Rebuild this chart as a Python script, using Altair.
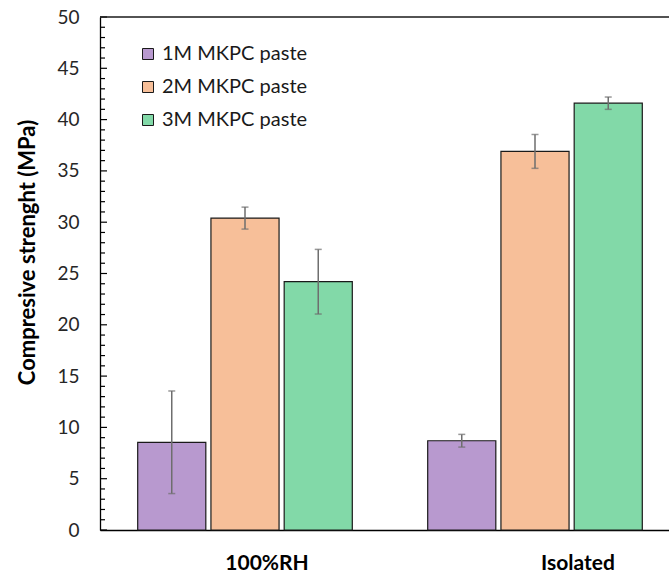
import altair as alt
import pandas as pd

conditions = ["100%RH", "Isolated"]
series = ["1M MKPC paste", "2M MKPC paste", "3M MKPC paste"]
means_rh = [8.55, 30.4, 24.2]
err_rh = [5.0, 1.07, 3.15]
means_iso = [8.7, 36.9, 41.6]
err_iso = [0.62, 1.65, 0.6]
colors = ["#B899CF", "#F7BF99", "#82D9A8"]
y_labels = [0, 5, 10, 15, 20, 25, 30, 35, 40, 45, 50]
minor_ticks = list(range(0, 51))

rows = []
for cond, means, errs in [(conditions[0], means_rh, err_rh), (conditions[1], means_iso, err_iso)]:
    for s, m, e in zip(series, means, errs):
        rows.append({"cond": cond, "series": s, "value": m, "lo": m - e, "hi": m + e})
df = pd.DataFrame(rows)

ticks_df = pd.DataFrame({"t": minor_ticks, "major": [t % 5 == 0 for t in minor_ticks]})

FONT = "Lato"

x_enc = alt.X(
    "cond:N",
    sort=conditions,
    scale=alt.Scale(range=[0, 580], paddingInner=0.26, paddingOuter=0.13),
    axis=alt.Axis(
        title=None, labelAngle=0, labelFont=FONT, labelFontSize=21, labelFontWeight="bold",
        labelColor="#000000", ticks=False, labelPadding=22,
        labelOffset={"condition": {"test": "datum.label === 'Isolated'", "value": 43}, "value": 22},
        domainColor="#000000", domainWidth=1.3, grid=False,
    ),
)
xo_enc = alt.XOffset("series:N", sort=series, scale=alt.Scale(paddingInner=0.07, paddingOuter=0))
y_scale = alt.Scale(domain=[0, 50], nice=False)
y_enc = alt.Y(
    "value:Q",
    scale=y_scale,
    axis=alt.Axis(
        title="Compresive strenght (MPa)", values=y_labels, ticks=False, grid=False,
        labelFont=FONT, labelFontSize=19, labelColor="#262626", labelPadding=21,
        domainColor="#000000", domainWidth=1.3,
        titleFont=FONT, titleFontSize=22, titleFontWeight="bold", titleColor="#000000",
        titleX=-73, titleY=235, titleAngle=270, titleAlign="center", titleBaseline="middle",
    ),
)

bars = alt.Chart(df).mark_bar(stroke="#1a1a1a", strokeWidth=1.2).encode(
    x=x_enc,
    xOffset=xo_enc,
    y=y_enc,
    color=alt.Color(
        "series:N",
        sort=series,
        scale=alt.Scale(domain=series, range=colors),
        legend=alt.Legend(
            title=None, orient="none", legendX=38, legendY=27, padding=0,
            symbolType="square", symbolSize=121, symbolStrokeColor="#1a1a1a", symbolStrokeWidth=1,
            labelFont=FONT, labelFontSize=20, labelColor="#1a1a1a", rowPadding=13,
            labelOffset=4, labelLimit=300,
        ),
    ),
)

err_rules = alt.Chart(df).mark_rule(color="#6e6e6e", strokeWidth=1.5).encode(
    x=alt.X("cond:N", sort=conditions), xOffset=alt.XOffset("series:N", sort=series),
    y=alt.Y("lo:Q", scale=y_scale), y2="hi:Q",
)
cap_lo = alt.Chart(df).mark_tick(color="#6e6e6e", size=7, thickness=1.5, orient="horizontal").encode(
    x=alt.X("cond:N", sort=conditions), xOffset=alt.XOffset("series:N", sort=series),
    y=alt.Y("lo:Q", scale=y_scale),
)
cap_hi = alt.Chart(df).mark_tick(color="#6e6e6e", size=7, thickness=1.5, orient="horizontal").encode(
    x=alt.X("cond:N", sort=conditions), xOffset=alt.XOffset("series:N", sort=series),
    y=alt.Y("hi:Q", scale=y_scale),
)

minor = alt.Chart(ticks_df).transform_filter("!datum.major").mark_rule(color="#000000", strokeWidth=1.2).encode(
    y=alt.Y("t:Q", scale=y_scale), x=alt.value(0), x2=alt.value(5),
)
major = alt.Chart(ticks_df).transform_filter("datum.major").mark_rule(color="#000000", strokeWidth=1.2).encode(
    y=alt.Y("t:Q", scale=y_scale), x=alt.value(0), x2=alt.value(7),
)
top_line = alt.Chart(pd.DataFrame({"top": [50]})).mark_rule(color="#1a1a1a", strokeWidth=1.3).encode(
    y=alt.Y("top:Q", scale=y_scale), x=alt.value(0), x2=alt.value(600),
)

chart = alt.layer(bars, err_rules, cap_lo, cap_hi, minor, major, top_line).properties(
    width=569, height=513,
    autosize=alt.AutoSizeParams(type="none"),
    padding={"left": 100, "top": 17, "right": 0, "bottom": 46},
    background="#ffffff",
).configure_view(stroke=None)

chart.save("out.html", embed_options={"renderer": "svg", "actions": False})
